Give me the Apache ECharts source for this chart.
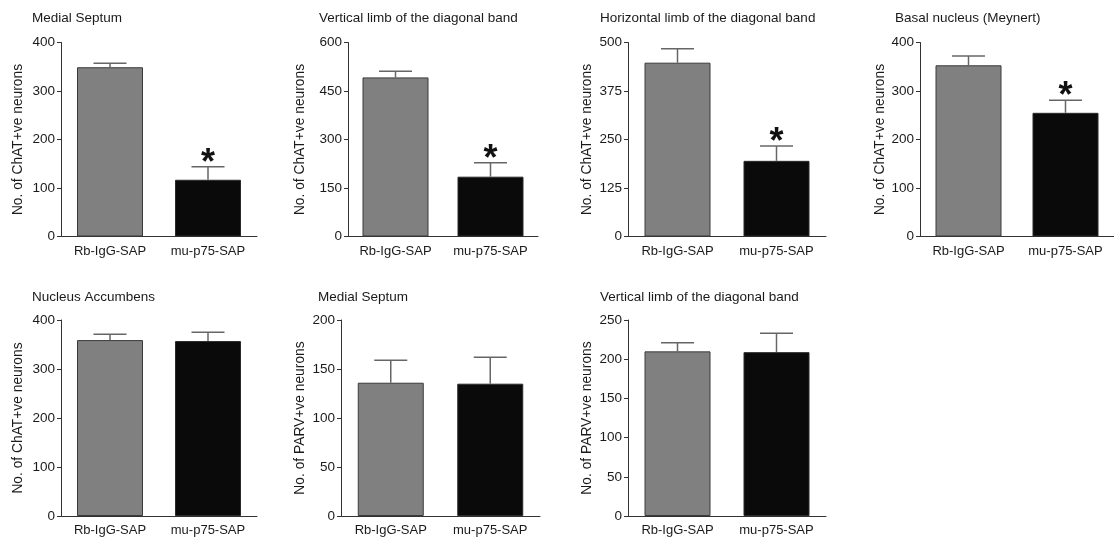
<!DOCTYPE html>
<html>
<head>
<meta charset="utf-8">
<script src="https://cdn.jsdelivr.net/npm/echarts@6/dist/echarts.min.js"></script>
<style>
  html, body { margin: 0; padding: 0; background: #fff; }
  #chart { width: 1114px; height: 541px; }
</style>
</head>
<body>
<div id="chart"></div>
<script>
// ---- data ----
var categories = ['Rb-IgG-SAP', 'mu-p75-SAP'];
var panelTitles = [
  'Medial Septum',
  'Vertical limb of the diagonal band',
  'Horizontal limb of the diagonal band',
  'Basal nucleus (Meynert)',
  'Nucleus Accumbens',
  'Medial Septum',
  'Vertical limb of the diagonal band'
];
var yAxisNames = [
  'No. of ChAT+ve neurons', 'No. of ChAT+ve neurons', 'No. of ChAT+ve neurons', 'No. of ChAT+ve neurons',
  'No. of ChAT+ve neurons', 'No. of PARV+ve neurons', 'No. of PARV+ve neurons'
];
var yMax = [400, 600, 500, 400, 400, 200, 250];
var yInterval = [100, 150, 125, 100, 100, 50, 50];
var rbIgGMeans = [349, 492, 448, 353, 359, 136, 210];
var rbIgGSem   = [8, 19, 36, 19, 12, 23, 11];
var p75Means   = [117, 185, 195, 255, 357, 135, 209];
var p75Sem     = [27, 43, 38, 26, 18, 27, 24];
var significant = [true, true, true, true, false, false, false];

// ---- layout (pixels) ----
var grids = [
  { left: 61,  top: 42.5, width: 196, height: 194 },
  { left: 348, top: 42.5, width: 190, height: 194 },
  { left: 628, top: 42.5, width: 198, height: 194 },
  { left: 920, top: 42.5, width: 198, height: 194 },
  { left: 61,  top: 320,  width: 196, height: 196 },
  { left: 341, top: 320,  width: 199, height: 196 },
  { left: 628, top: 320,  width: 198, height: 196 }
];
var titlePos = [
  [32, 11], [319, 11], [600, 11], [895, 11],
  [32, 290], [318, 290], [600, 290]
];
var nameGaps = [36, 41, 34, 33, 36, 34, 34];

var FONT = '"Liberation Sans", Arial, Helvetica, sans-serif';
var chart = echarts.init(document.getElementById('chart'), null, { renderer: 'canvas' });

var option = {
  backgroundColor: '#ffffff',
  animation: false,
  title: [], grid: [], xAxis: [], yAxis: [], series: []
};

for (var i = 0; i < panelTitles.length; i++) {
  option.title.push({
    text: panelTitles[i], left: titlePos[i][0], top: titlePos[i][1], padding: 0,
    textStyle: { fontSize: 13.5, fontWeight: 'normal', color: '#1a1a1a', fontFamily: FONT }
  });
  option.grid.push(grids[i]);
  option.xAxis.push({
    type: 'category', gridIndex: i, data: categories,
    axisLine: { show: true, lineStyle: { color: '#333', width: 1 } },
    axisTick: { show: false },
    axisLabel: { fontSize: 13, color: '#1a1a1a', margin: 8, fontFamily: FONT, interval: 0 },
    splitLine: { show: false }
  });
  option.yAxis.push({
    type: 'value', gridIndex: i, min: 0, max: yMax[i], interval: yInterval[i],
    name: yAxisNames[i], nameLocation: 'middle', nameGap: nameGaps[i], nameRotate: 90,
    nameTextStyle: { fontSize: 13.8, color: '#1a1a1a', fontFamily: FONT },
    axisLine: { show: true, lineStyle: { color: '#333', width: 1 } },
    axisTick: { show: true, length: 4, inside: false, lineStyle: { color: '#333', width: 1 } },
    axisLabel: { fontSize: 13.5, color: '#1a1a1a', margin: 6, fontFamily: FONT },
    splitLine: { show: false }
  });
  option.series.push({
    type: 'bar', xAxisIndex: i, yAxisIndex: i, barWidth: 66,
    data: [
      { value: rbIgGMeans[i], itemStyle: { color: '#808080', borderColor: '#3a3a3a', borderWidth: 1 } },
      { value: p75Means[i],   itemStyle: { color: '#0a0a0a', borderColor: '#2a2a2a', borderWidth: 1 } }
    ]
  });
  option.series.push({
    type: 'custom', xAxisIndex: i, yAxisIndex: i, z: 5,
    data: [
      [0, rbIgGMeans[i], rbIgGMeans[i] + rbIgGSem[i], 0],
      [1, p75Means[i], p75Means[i] + p75Sem[i], significant[i] ? 1 : 0]
    ],
    encode: { x: 0, y: 2 },
    renderItem: function (params, api) {
      var c = api.value(0);
      var lo = api.coord([c, api.value(1)]);
      var hi = api.coord([c, api.value(2)]);
      var half = 16.5;
      var children = [
        { type: 'line', shape: { x1: lo[0], y1: lo[1], x2: hi[0], y2: hi[1] },
          style: { stroke: '#666', lineWidth: 1.5 } },
        { type: 'line', shape: { x1: hi[0] - half, y1: hi[1], x2: hi[0] + half, y2: hi[1] },
          style: { stroke: '#666', lineWidth: 1.5 } }
      ];
      if (api.value(3) === 1) {
        children.push({
          type: 'text',
          style: { text: '*', x: hi[0], y: hi[1] - 3, align: 'center', verticalAlign: 'middle',
                   font: 'bold 36px ' + FONT, fill: '#111' }
        });
      }
      return { type: 'group', children: children };
    }
  });
}

chart.setOption(option);
</script>
</body>
</html>
